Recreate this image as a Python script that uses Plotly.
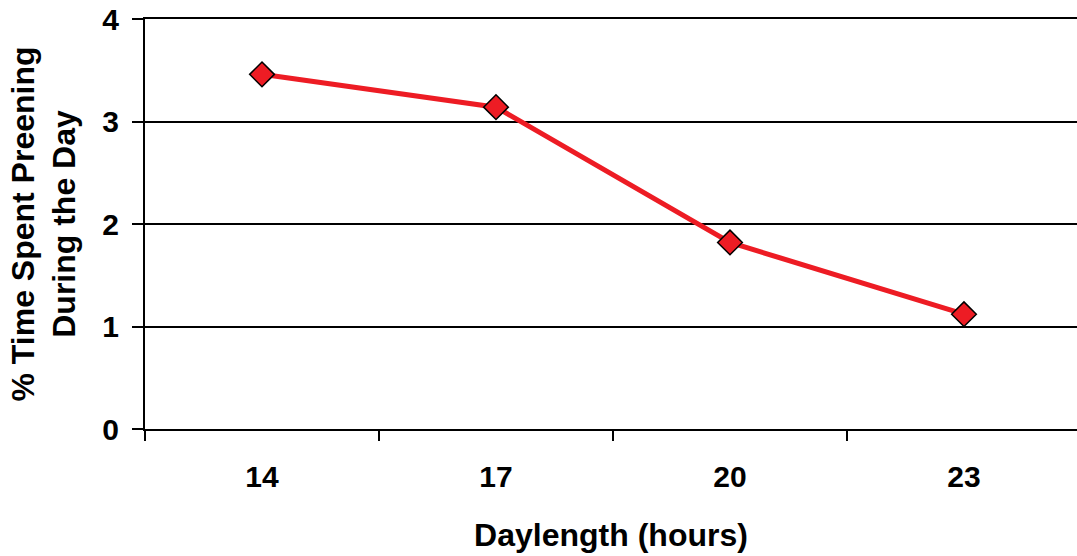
import plotly.graph_objects as go

daylength = ["14", "17", "20", "23"]
preening = [3.46, 3.14, 1.82, 1.12]
y_ticks = [0, 1, 2, 3, 4]

FONT = "Liberation Sans, Arial, sans-serif"
RED = "#ED1C24"

fig = go.Figure()
fig.add_trace(go.Scatter(
    x=daylength, y=preening, mode="lines+markers",
    line=dict(color=RED, width=5),
    marker=dict(symbol="diamond", size=19, color=RED, line=dict(color="black", width=1.5)),
    showlegend=False,
))

fig.update_layout(
    width=1077, height=556,
    margin=dict(l=145, r=0, t=19, b=127),
    paper_bgcolor="white", plot_bgcolor="white",
    font=dict(family=FONT, color="black"),
)
fig.update_xaxes(
    type="category", range=[-0.5, 3.483],
    tickson="boundaries", ticks="outside", ticklen=10, tickwidth=1.5, tickcolor="black",
    showline=True, linecolor="black", linewidth=2, mirror=True, showgrid=False,
    tickfont=dict(size=30, family=FONT, color="black", weight="bold"),
    ticklabelstandoff=20,
    title=dict(text="<b>Daylength (hours)</b>", font=dict(size=32, family=FONT), standoff=32),
)
fig.update_yaxes(
    range=[0, 4], tickvals=y_ticks, ticks="outside", ticklen=11, tickwidth=1.5, tickcolor="black",
    showline=True, linecolor="black", linewidth=2,
    showgrid=True, gridcolor="black", gridwidth=1.5, zeroline=False,
    tickfont=dict(size=30, family=FONT, color="black", weight="bold"),
    ticklabelstandoff=7,
    title=dict(text="<b>% Time Spent Preening<br>During the Day</b>", font=dict(size=32, family=FONT), standoff=17),
)

fig.write_html("out.html")
